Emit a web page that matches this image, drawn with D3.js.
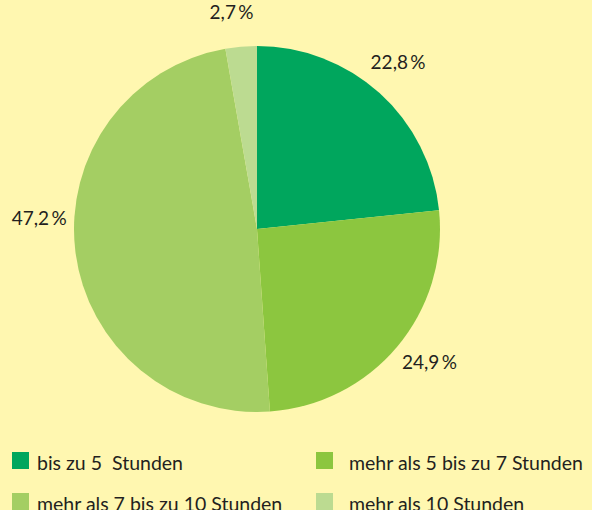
<!DOCTYPE html>
<html>
<head>
<meta charset="utf-8">
<script src="https://cdn.jsdelivr.net/npm/d3@7"></script>
<style>
  html, body { margin: 0; padding: 0; background: #fff7b0; overflow: hidden; }
  svg { display: block; font-family: Lato, "Open Sans", sans-serif; }
  text { white-space: pre; }
</style>
</head>
<body>
<div id="app"></div>
<script>
  // Schlafdauer-Verteilung
  const categories = ['bis zu 5  Stunden', 'mehr als 5 bis zu 7 Stunden', 'mehr als 7 bis zu 10 Stunden', 'mehr als 10 Stunden']
  const values = [22.8, 24.9, 47.2, 2.7]
  const valueLabels = ['22,8\u2009%', '24,9\u2009%', '47,2\u2009%', '2,7\u2009%']
  const colors = ['#00a65d', '#8cc63f', '#a4ce63', '#bcdb91']

  const w = 592
  const h = 510
  const cx = 257
  const cy = 229
  const r = 183

  const svg = d3.select('#app')
    .append('svg')
    .attr('width', w)
    .attr('height', h)

  svg.append('rect')
    .attr('width', w)
    .attr('height', h)
    .attr('fill', '#fff7b0')

  const pie = d3.pie().sort(null)
  const arcs = pie(values)

  const arc = d3.arc().innerRadius(0).outerRadius(r)
  const labelArc = d3.arc().innerRadius(218).outerRadius(218)

  // small angular nudges so labels sit where the original has them
  const labelShift = [-0.03, -0.04, 0.17, -0.03]

  const g = svg.append('g')
    .attr('transform', 'translate(' + cx + ',' + cy + ')')

  g.selectAll('path')
    .data(arcs)
    .enter()
    .append('path')
    .attr('d', arc)
    .attr('fill', (d, i) => colors[i])

  g.selectAll('text')
    .data(arcs)
    .enter()
    .append('text')
    .attr('transform', function (d, i) {
      const a = (d.startAngle + d.endAngle) / 2 + labelShift[i]
      const c = labelArc.centroid({startAngle: a, endAngle: a})
      return 'translate(' + c[0] + ',' + c[1] + ')'
    })
    .attr('text-anchor', 'middle')
    .attr('dy', '0.35em')
    .attr('font-size', 19)
    .attr('fill', '#231f20')
    .text((d, i) => valueLabels[i])

  // legend, 2 columns
  const legend = svg.append('g')
    .selectAll('g')
    .data(categories)
    .enter()
    .append('g')
    .attr('transform', (d, i) => 'translate(' + (i % 2 === 0 ? 12 : 316) + ',' + (452 + Math.floor(i / 2) * 41) + ')')

  legend.append('rect')
    .attr('width', 17)
    .attr('height', 17)
    .attr('fill', (d, i) => colors[i])

  legend.append('text')
    .attr('x', (d, i) => i % 2 === 0 ? 25 : 33)
    .attr('y', 18)
    .attr('font-size', 19.5)
    .attr('fill', '#231f20')
    .text(d => d)
</script>
</body>
</html>
